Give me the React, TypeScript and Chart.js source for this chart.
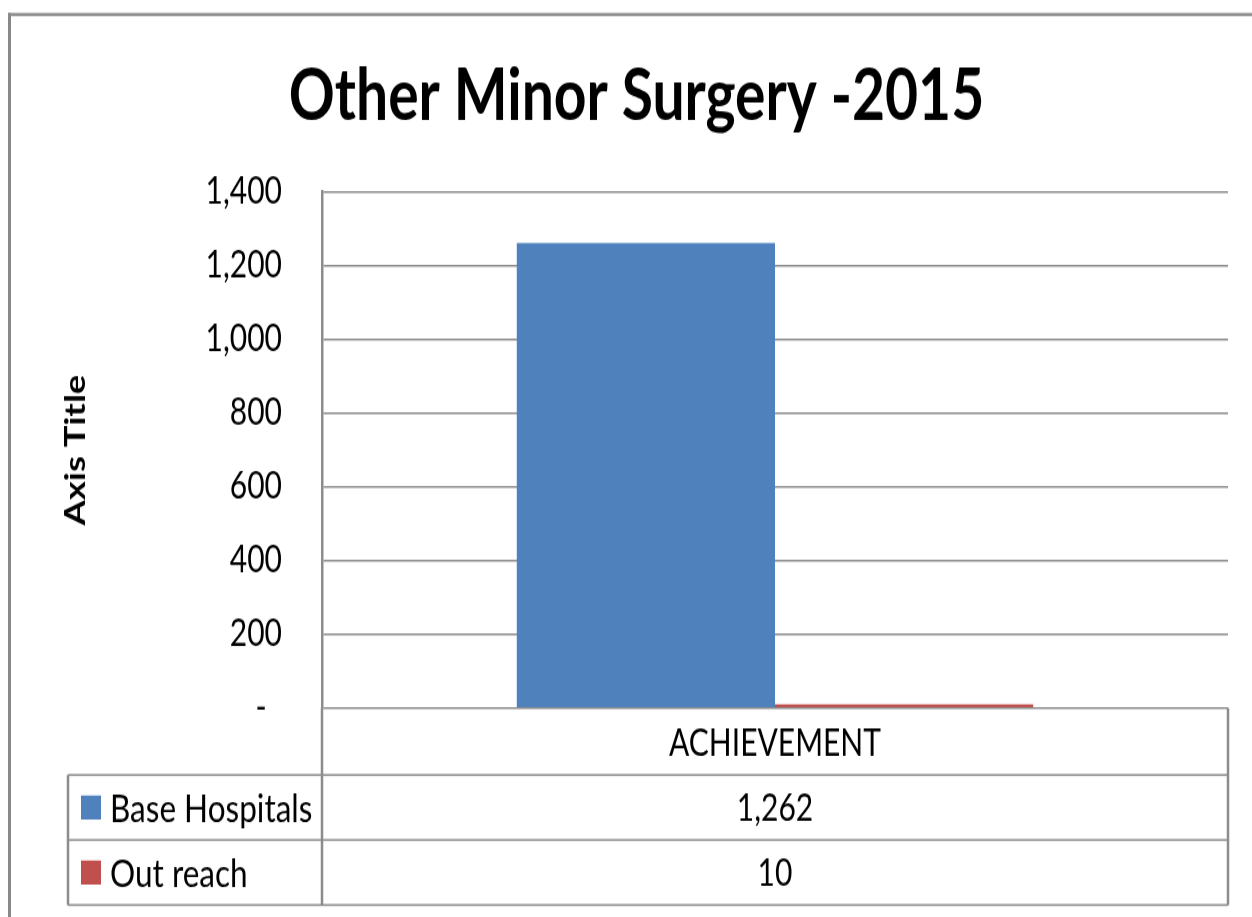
import React, { useEffect, useRef } from 'react';
import { Chart, registerables } from 'chart.js';

Chart.register(...registerables);

// ---------- data ----------
const TITLE = 'Other Minor Surgery -2015';
const CATEGORIES = ['ACHIEVEMENT'];
const SERIES_NAMES = ['Base Hospitals', 'Out reach'];
const BASE_HOSPITALS = [1262];
const OUT_REACH = [10];
const SERIES_COLORS = ['#4F81BD', '#C0504D'];
const Y_MIN = 0;
const Y_MAX = 1400;
const Y_STEP = 200;
const Y_AXIS_TITLE = 'Axis Title';

// ---------- layout (canvas is drawn at W x H and shown stretched to W x H_PAGE) ----------
const W = 1252;
const H_PAGE = 917;
const H = 734;
const K = H_PAGE / H;
const py = (v: number) => v / K; // page y -> canvas y

const PAD_LEFT = 45;
const PLOT_LEFT = 322;
const PLOT_RIGHT = 1228;
const PLOT_TOP = py(192);
const PLOT_BOTTOM = py(708);
const TABLE_LEFT = 68;
const ROW_LINES = [py(775), py(840), py(905)];
const FONT = 'Lato, "Noto Sans", sans-serif';
const GRID = '#8c8c8c';
const fmt = (v: number) => Number(v).toLocaleString('en-US');

const frameAndTable = {
  id: 'frameAndTable',
  beforeDraw(chart: any) {
    const ctx = chart.ctx;
    ctx.save();
    ctx.fillStyle = '#ffffff';
    ctx.fillRect(0, 0, W, H);
    ctx.fillStyle = '#898989';
    ctx.fillRect(8, py(13), W - 8, py(3));
    ctx.fillRect(8, py(13), 3, H);
    ctx.restore();
  },
  afterDraw(chart: any) {
    const ctx = chart.ctx;
    const { left, right, bottom } = chart.chartArea;
    const [r1, r2, r3] = ROW_LINES;
    ctx.save();
    ctx.fillStyle = GRID;
    const hline = (x0: number, x1: number, y: number) => ctx.fillRect(x0, y - 0.8, x1 - x0, 1.6);
    const vline = (x: number, y0: number, y1: number) => ctx.fillRect(x - 1.25, y0, 2.5, y1 - y0);
    hline(TABLE_LEFT, right, r1);
    hline(TABLE_LEFT, right, r2);
    hline(TABLE_LEFT, right, r3);
    vline(left, bottom, r3);
    vline(right, bottom, r3);
    vline(TABLE_LEFT, r1, r3);

    const series = [BASE_HOSPITALS, OUT_REACH];
    const rowTops = [r1, r2];
    const rowBottoms = [r2, r3];
    const xCenter = chart.scales.x.getPixelForValue(0);
    ctx.textBaseline = 'middle';
    series.forEach((vals, i) => {
      const cy = (rowTops[i] + rowBottoms[i]) / 2;
      const sq = py(24);
      ctx.fillStyle = SERIES_COLORS[i];
      ctx.fillRect(81, cy - sq / 2, 20, sq);
      ctx.fillStyle = '#000';
      ctx.textAlign = 'left';
      ctx.font = `31.5px ${FONT}`;
      ctx.fillText(SERIES_NAMES[i], 110, cy + 1);
      ctx.textAlign = 'center';
      ctx.font = `30px ${FONT}`;
      ctx.fillText(fmt(vals[0]), xCenter, cy + 1);
    });
    ctx.restore();
  },
};

export default function App() {
  const ref = useRef<HTMLCanvasElement>(null);
  useEffect(() => {
    const canvas = ref.current as HTMLCanvasElement;
    const chart = new Chart(canvas, {
      type: 'bar',
      data: {
        labels: CATEGORIES,
        datasets: [
          {
            label: SERIES_NAMES[0],
            data: BASE_HOSPITALS,
            backgroundColor: SERIES_COLORS[0],
            borderWidth: 0,
            categoryPercentage: 0.57,
            barPercentage: 1,
          },
          {
            label: SERIES_NAMES[1],
            data: OUT_REACH,
            backgroundColor: SERIES_COLORS[1],
            borderWidth: 0,
            categoryPercentage: 0.57,
            barPercentage: 1,
          },
        ],
      },
      options: {
        responsive: false,
        animation: false,
        devicePixelRatio: 1,
        events: [],
        layout: { padding: { left: PAD_LEFT, right: W - PLOT_RIGHT, top: 0, bottom: 0 } },
        plugins: {
          legend: { display: false },
          tooltip: { enabled: false },
          title: {
            display: true,
            text: TITLE,
            color: '#000',
            font: { family: FONT, size: 57, weight: 'bold', lineHeight: 1.2 },
            padding: { top: 43.8, bottom: PLOT_TOP - 43.8 - 57 * 1.2 },
          },
        },
        scales: {
          x: {
            grid: { display: false, drawTicks: false },
            border: { display: false },
            ticks: { color: '#000', font: { family: FONT, size: 30 }, padding: 11 },
            afterFit: (s: any) => {
              s.height = H - PLOT_BOTTOM;
            },
          },
          y: {
            min: Y_MIN,
            max: Y_MAX,
            ticks: {
              stepSize: Y_STEP,
              color: '#000',
              font: { family: FONT, size: 30 },
              padding: 40,
              callback: (v: any) => (Number(v) === 0 ? '-  ' : fmt(Number(v))),
            },
            grid: { color: GRID, lineWidth: 1.6, drawTicks: false },
            border: { display: true, color: GRID, width: 2.5 },
            title: {
              display: true,
              text: Y_AXIS_TITLE,
              color: '#000',
              font: { family: FONT, size: 29, weight: 'bold', lineHeight: 1.2 },
              padding: { top: 58 - PAD_LEFT, bottom: 0 },
            },
            afterFit: (s: any) => {
              s.width = PLOT_LEFT - PAD_LEFT;
            },
          },
        },
      },
      plugins: [frameAndTable],
    });
    canvas.style.width = `${W}px`;
    canvas.style.height = `${H_PAGE}px`;
    return () => chart.destroy();
  }, []);
  return (
    <canvas
      ref={ref}
      width={W}
      height={H}
      style={{ position: 'absolute', left: 0, top: 0, width: W, height: H_PAGE, display: 'block' }}
    />
  );
}
